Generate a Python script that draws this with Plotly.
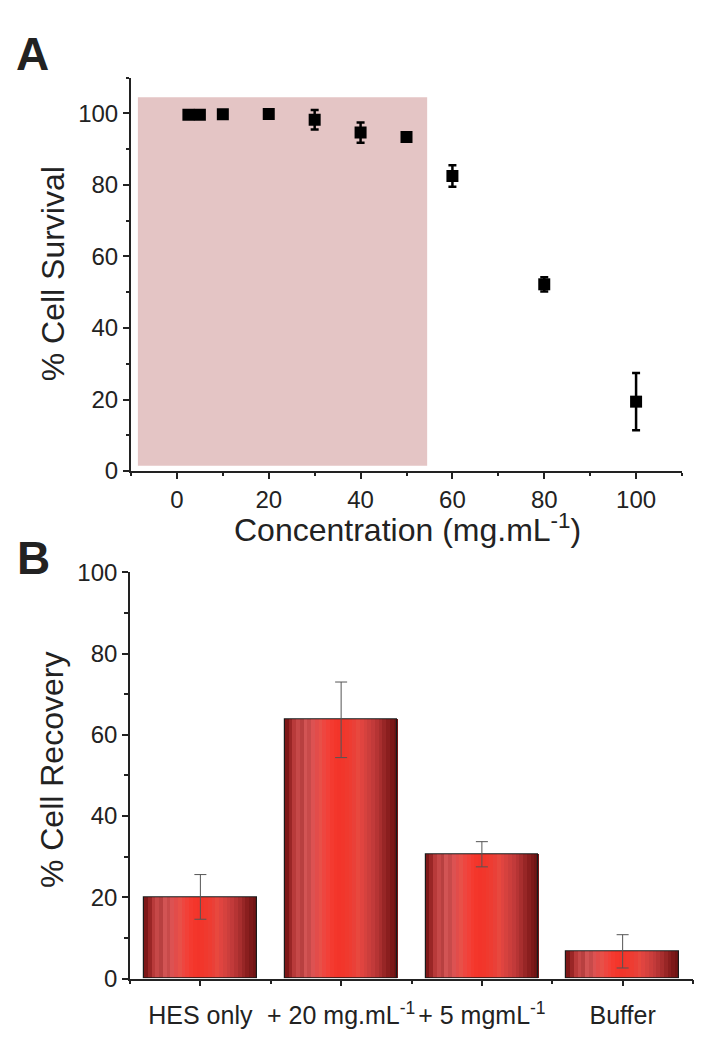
import plotly.graph_objects as go

# Panel A: cell survival vs concentration
CONC = [2.5, 5, 10, 20, 30, 40, 50, 60, 80, 100]
SURVIVAL = [99.6, 99.6, 99.7, 99.8, 98.2, 94.6, 93.4, 82.5, 52.2, 19.4]
SURVIVAL_ERR = [0.5, 0.5, 0.5, 0.5, 2.7, 2.8, 1.0, 3.0, 2.0, 8.0]
SHADE_X = [-8.5, 54.5]
SHADE_Y = [1.5, 104.5]

# Panel B: cell recovery
CATEGORIES = ["HES only", "+ 20 mg.mL<sup>-1</sup>", "+ 5 mgmL<sup>-1</sup>", "Buffer"]
RECOVERY = [20.1, 63.7, 30.6, 6.7]
RECOVERY_ERR = [5.5, 9.3, 3.1, 4.1]

FONT = "Liberation Sans, Arial, sans-serif"
TXT = "#222222"

# page body has an 8px margin, so the figure is a bit smaller than the window
PAD = 8
W, H = 712 - PAD, 1050 - PAD


def px(x):
    return (x - PAD) / W


def py(y):
    return 1 - (y - PAD) / H


# stripes that give the bars their shaded look
STRIPES = ["#7e1818", "#9a2626", "#b83a3a", "#c64848", "#b84040", "#d25454",
           "#c84a4a", "#dc5252", "#e24c4a", "#e85048", "#ee4640", "#f24038",
           "#f43a30", "#f4362b", "#f3342a", "#f2362b", "#f0392e", "#ee3c32",
           "#ea4038", "#e8483e", "#e04440", "#d6423e", "#cc3e3c", "#c23a3a",
           "#b63434", "#a82e2e", "#982626", "#8a1e1e", "#7c1818", "#721414"]
BAR_W = 0.8

fig = go.Figure()

fig.add_shape(type="rect", xref="x", yref="y",
              x0=SHADE_X[0], x1=SHADE_X[1], y0=SHADE_Y[0], y1=SHADE_Y[1],
              fillcolor="#e4c5c5", line=dict(width=0), layer="below")

fig.add_trace(go.Scatter(
    x=CONC, y=SURVIVAL, mode="markers",
    marker=dict(symbol="square", size=12, color="black"),
    error_y=dict(type="data", array=SURVIVAL_ERR, color="black", thickness=2.5, width=4),
    xaxis="x", yaxis="y", showlegend=False
))

xb = list(range(len(CATEGORIES)))
n = len(STRIPES)
for i, c in enumerate(STRIPES):
    fig.add_trace(go.Bar(
        x=xb, y=RECOVERY, width=BAR_W / n * 1.15,
        offset=-BAR_W / 2 + i * BAR_W / n,
        marker=dict(color=c, line=dict(width=0)),
        xaxis="x2", yaxis="y2", showlegend=False, hoverinfo="skip"
    ))

# outline + error bars
fig.add_trace(go.Bar(
    x=xb, y=RECOVERY, width=BAR_W,
    marker=dict(color="rgba(0,0,0,0)", line=dict(color="#1a1a1a", width=1.2)),
    error_y=dict(type="data", array=RECOVERY_ERR, color="#555555", thickness=1, width=6),
    xaxis="x2", yaxis="y2", showlegend=False
))

axis_common = dict(
    showgrid=False, zeroline=False, showline=True, linecolor=TXT,
    ticks="outside", tickcolor=TXT, ticklen=6,
    tickfont=dict(family=FONT, size=24, color=TXT),
)

fig.update_layout(
    width=W, height=H,
    margin=dict(l=0, r=0, t=0, b=0),
    paper_bgcolor="white", plot_bgcolor="white",
    barmode="overlay", bargap=0,
    xaxis=dict(domain=[px(131), px(682)], range=[-10, 110], anchor="y",
               tickmode="linear", tick0=0, dtick=20, linewidth=2, tickwidth=2,
               minor=dict(ticks="outside", tick0=0, dtick=10, ticklen=3, tickwidth=2, tickcolor=TXT),
               **axis_common),
    yaxis=dict(domain=[py(469), py(65)], range=[0, 110], anchor="x",
               tickmode="linear", tick0=0, dtick=20, linewidth=2, tickwidth=2,
               minor=dict(ticks="outside", tick0=0, dtick=10, ticklen=3, tickwidth=2, tickcolor=TXT),
               **axis_common),
    xaxis2=dict(domain=[px(130), px(693)], range=[-0.5, 3.5], anchor="y2",
                tickmode="array", tickvals=xb, ticktext=CATEGORIES,
                linewidth=1.6, tickwidth=1.6, ticklabelstandoff=8,
                minor=dict(ticks="outside", tick0=0.5, dtick=1, ticklen=4, tickwidth=1.6, tickcolor=TXT),
                **{**axis_common, "tickfont": dict(family=FONT, size=25, color=TXT)}),
    yaxis2=dict(domain=[py(990), py(573)], range=[0, 100], anchor="x2",
                tickmode="linear", tick0=0, dtick=20, linewidth=1.6, tickwidth=1.6,
                minor=dict(ticks="outside", tick0=0, dtick=10, ticklen=4, tickwidth=1.6, tickcolor=TXT),
                **axis_common),
)

title_font = dict(family=FONT, size=32, color=TXT)
fig.add_annotation(text="% Cell Survival", xref="paper", yref="paper",
                   x=px(53), y=py(267), xanchor="center", yanchor="middle",
                   textangle=-90, showarrow=False, font=title_font)
fig.add_annotation(text="Concentration (mg.mL<sup>-1</sup>)", xref="paper", yref="paper",
                   x=px(407), y=py(527), xanchor="center", yanchor="middle",
                   showarrow=False, font=title_font)
fig.add_annotation(text="% Cell Recovery", xref="paper", yref="paper",
                   x=px(52), y=py(776), xanchor="center", yanchor="middle",
                   textangle=-90, showarrow=False, font=title_font)

label_font = dict(family=FONT, size=46, color=TXT)
fig.add_annotation(text="<b>A</b>", xref="paper", yref="paper", x=px(14), y=py(12),
                   xanchor="left", yanchor="top", showarrow=False, font=label_font)
fig.add_annotation(text="<b>B</b>", xref="paper", yref="paper", x=px(15), y=py(530),
                   xanchor="left", yanchor="top", showarrow=False, font=label_font)

fig.write_html("out.html")
